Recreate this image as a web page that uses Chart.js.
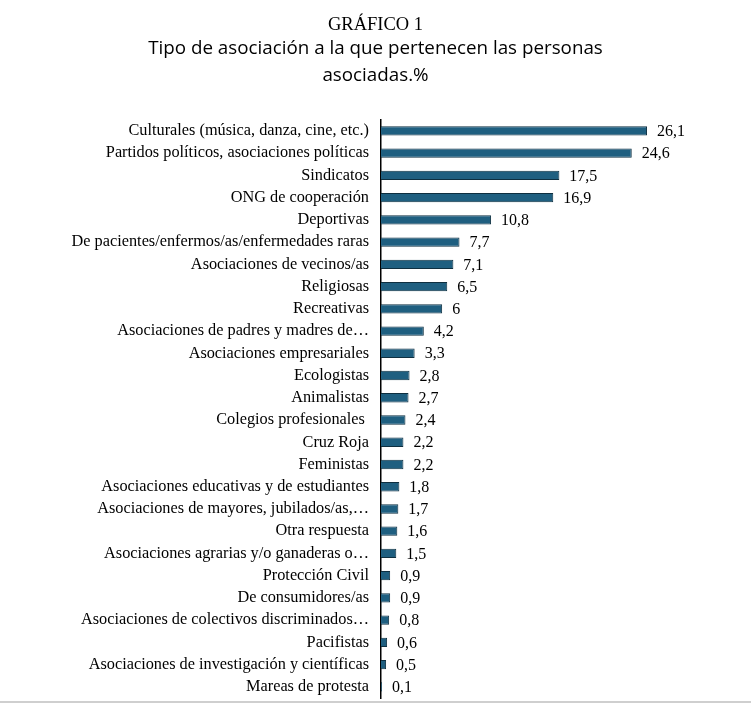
<!DOCTYPE html>
<html>
<head>
<meta charset="utf-8">
<script src="https://cdn.jsdelivr.net/npm/chart.js@4"></script>
<style>
  html, body { margin: 0; padding: 0; background: #fff; }
  #wrap { width: 751px; height: 701px; border-bottom: 2px solid #cfcfcf; }
  canvas { display: block; }
</style>
</head>
<body>
<div id="wrap"><canvas id="chart" width="751" height="701"></canvas></div>
<script>
const categories = [
  'Culturales (música, danza, cine, etc.)',
  'Partidos políticos, asociaciones políticas',
  'Sindicatos',
  'ONG de cooperación',
  'Deportivas',
  'De pacientes/enfermos/as/enfermedades raras',
  'Asociaciones de vecinos/as',
  'Religiosas',
  'Recreativas',
  'Asociaciones de padres y madres de…',
  'Asociaciones empresariales',
  'Ecologistas',
  'Animalistas',
  'Colegios profesionales ',
  'Cruz Roja',
  'Feministas',
  'Asociaciones educativas y de estudiantes',
  'Asociaciones de mayores, jubilados/as,…',
  'Otra respuesta',
  'Asociaciones agrarias y/o ganaderas o…',
  'Protección Civil',
  'De consumidores/as',
  'Asociaciones de colectivos discriminados…',
  'Pacifistas',
  'Asociaciones de investigación y científicas',
  'Mareas de protesta'
];
const values = [26.1, 24.6, 17.5, 16.9, 10.8, 7.7, 7.1, 6.5, 6, 4.2, 3.3, 2.8, 2.7, 2.4, 2.2, 2.2, 1.8, 1.7, 1.6, 1.5, 0.9, 0.9, 0.8, 0.6, 0.5, 0.1];
const titleText = 'GRÁFICO 1';
const subtitleLines = ['Tipo de asociación a la que pertenecen las personas', 'asociadas.%'];

// value labels drawn at the end of each bar
const valueLabels = {
  id: 'valueLabels',
  afterDatasetsDraw(chart) {
    const ctx = chart.ctx;
    const meta = chart.getDatasetMeta(0);
    ctx.save();
    ctx.font = '16px "Liberation Serif"';
    ctx.fillStyle = '#000';
    ctx.textBaseline = 'middle';
    ctx.textAlign = 'left';
    meta.data.forEach((bar, i) => {
      const txt = String(values[i]).replace('.', ',');
      ctx.fillText(txt, bar.x + 10, bar.y + 1);
    });
    ctx.restore();
  }
};

new Chart(document.getElementById('chart'), {
  type: 'bar',
  data: {
    labels: categories,
    datasets: [{
      data: values,
      backgroundColor: '#1f5f80',
      borderColor: '#0e2f40',
      borderWidth: 1,
      categoryPercentage: 1,
      barPercentage: 0.42
    }]
  },
  options: {
    indexAxis: 'y',
    responsive: false,
    animation: false,
    layout: { padding: { top: 3, right: 0, bottom: 3, left: 0 } },
    scales: {
      x: {
        display: false,
        min: 0,
        max: 36.3
      },
      y: {
        grid: { display: false, drawTicks: false },
        border: { display: true, color: '#000', width: 1.5 },
        ticks: {
          color: '#000',
          padding: 12,
          autoSkip: false,
          font: { family: '"Liberation Serif"', size: 16.3 }
        },
        afterFit(scale) {
          scale.width = 381;
          scale.paddingTop = 0;
          scale.paddingBottom = 0;
        }
      }
    },
    plugins: {
      legend: { display: false },
      tooltip: { enabled: false },
      title: {
        display: true,
        text: titleText,
        color: '#000',
        font: { family: '"Liberation Serif"', size: 18.5, weight: 'normal', lineHeight: 1 },
        padding: { top: 12.75, bottom: 1 }
      },
      subtitle: {
        display: true,
        text: subtitleLines,
        color: '#000',
        font: { family: '"Open Sans"', size: 18.8, weight: 'normal', lineHeight: 1.45 },
        padding: { top: 0, bottom: 30 }
      }
    }
  },
  plugins: [valueLabels]
});
</script>
</body>
</html>
